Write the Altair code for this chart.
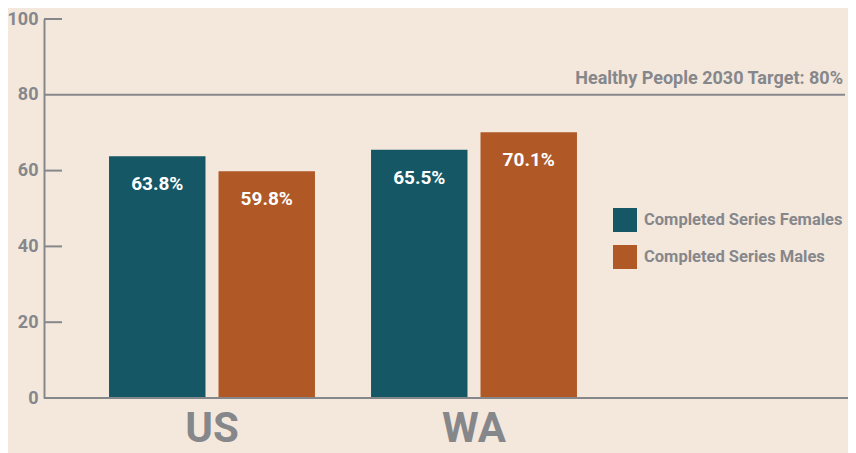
import altair as alt
import pandas as pd

regions = ["US", "US", "WA", "WA"]
series = ["Completed Series Females", "Completed Series Males",
          "Completed Series Females", "Completed Series Males"]
values = [63.8, 59.8, 65.5, 70.1]
labels = ["63.8%", "59.8%", "65.5%", "70.1%"]
tick_values = [20, 40, 60, 100]
target_value = 80
target_label = "Healthy People 2030 Target: 80%"

series_order = ["Completed Series Females", "Completed Series Males"]
colors = ["#155764", "#b05927"]
gray = "#86878b"
FR = "Roboto"
W, H = 804, 379

df = pd.DataFrame({"Region": regions, "Series": series, "Value": values, "Label": labels})

x_enc = alt.X("Region:N", scale=alt.Scale(range=[37, 561], paddingInner=0, paddingOuter=0),
              axis=alt.Axis(title=None, labelAngle=0, labelFontSize=42, labelFont=FR,
                            labelFontWeight="bold", labelColor=gray, domain=False, ticks=False,
                            labelPadding=10))
xoff = alt.XOffset("Series:N", sort=series_order,
                   scale=alt.Scale(paddingInner=0.119, paddingOuter=0.256))
y_enc = alt.Y("Value:Q", scale=alt.Scale(domain=[0, 100], nice=False),
              axis=alt.Axis(title=None, values=[0, 20, 40, 60, 80, 100], grid=False, ticks=False,
                            domainColor=gray, domainWidth=2, labelFontSize=18, labelFont=FR,
                            labelFontWeight="bold", labelColor=gray, labelPadding=6))

base = alt.Chart(df)
bars = base.mark_bar().encode(
    x=x_enc, xOffset=xoff, y=y_enc,
    color=alt.Color("Series:N", sort=series_order,
                    scale=alt.Scale(domain=series_order, range=colors),
                    legend=alt.Legend(title=None, orient="none", legendX=569, legendY=189,
                                      symbolType="square", symbolSize=576, symbolStrokeWidth=0,
                                      symbolOpacity=1, labelFontSize=16.5, labelFont=FR,
                                      labelFontWeight="bold", labelColor=gray, rowPadding=13,
                                      labelOffset=7, padding=0, labelLimit=0)),
)
texts = base.mark_text(color="white", fontSize=19, font=FR, fontWeight="bold",
                       baseline="middle", dy=28).encode(
    x="Region:N", xOffset=alt.XOffset("Series:N", sort=series_order), y="Value:Q", text="Label:N")

ticks_df = pd.DataFrame({"t": tick_values})
tick_rules = alt.Chart(ticks_df).mark_rule(color=gray, strokeWidth=2).encode(
    x=alt.value(0), x2=alt.value(18), y="t:Q")

target = alt.Chart(pd.DataFrame({"v": [target_value], "lab": [target_label]}))
target_rule = target.mark_rule(color=gray, strokeWidth=2).encode(
    x=alt.value(0), x2=alt.value(801), y="v:Q")
target_text = target.mark_text(align="right", baseline="alphabetic", dy=-11, fontSize=18,
                               font=FR, fontWeight="bold", color=gray).encode(
    x=alt.value(799), y="v:Q", text="lab:N")

base_rule = alt.Chart(pd.DataFrame({"z": [0]})).mark_rule(color=gray, strokeWidth=2).encode(
    x=alt.value(0), x2=alt.value(W), y="z:Q")

chart = alt.layer(bars, texts, tick_rules, target_rule, target_text, base_rule).properties(
    width=W, height=H,
    autosize=alt.AutoSizeParams(type="none"),
    padding={"left": 36, "top": 11, "right": 0, "bottom": 55},
    background="#f4e8dd",
).configure_view(stroke=None)

chart.save("out.html", embed_options={"renderer": "svg", "actions": False})
